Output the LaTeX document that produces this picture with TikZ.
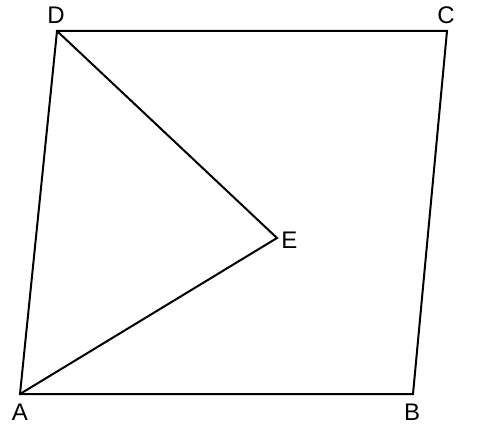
\documentclass[tikz,border=0pt]{standalone}
\usepackage{fontspec}
\setmainfont{Liberation Sans}
\usepackage{tikz}
\usetikzlibrary{positioning}
\tikzset{
    x=0.75pt, y=-0.75pt, % pixel units, y pointing down
    edge line/.style={line width=1.5pt, line join=miter}, % the sides of the figure
    vertex label/.style={font=\fontsize{18}{21}\selectfont, inner sep=0pt}, % letters at the corners
}
\begin{document}
\begin{tikzpicture}
    \useasboundingbox (0,0) rectangle (484,434);
    \coordinate (A) at (20,394);
    \coordinate (B) at (413,394);
    \coordinate (C) at (447,31);
    \coordinate (D) at (57,31);
    \coordinate (E) at (277,238);
    \draw[edge line] (A) -- (B) -- (C) -- (D) -- cycle;
    \draw[edge line] (D) -- (E) -- (A);
    \node[vertex label] (lA) at (20,412) {A};
    \node[vertex label] (lB) at (412,412) {B};
    \node[vertex label] (lC) at (446,15) {C};
    \node[vertex label] (lD) at (56,15) {D};
    \node[vertex label, anchor=west] (lE) at (281,240) {E};
\end{tikzpicture}
\end{document}
